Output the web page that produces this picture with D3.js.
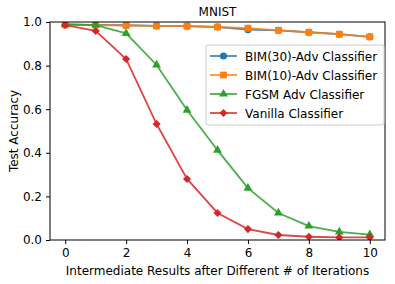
<!DOCTYPE html>
<html>
<head>
<meta charset="utf-8">
<script src="https://cdn.jsdelivr.net/npm/d3@7"></script>
<style>
  body { margin: 0; background: #fff; }
  text { font-family: "DejaVu Sans", sans-serif; }
</style>
</head>
<body>
<svg id="chart_1" width="395" height="284"></svg>
<script>
  // data
  var iterations = [0, 1, 2, 3, 4, 5, 6, 7, 8, 9, 10];
  var bim30 = [0.988, 0.987, 0.985, 0.982, 0.981, 0.977, 0.965, 0.962, 0.953, 0.944, 0.932];
  var bim10 = [0.986, 0.986, 0.984, 0.982, 0.981, 0.977, 0.972, 0.962, 0.953, 0.944, 0.932];
  var fgsm = [0.99, 0.986, 0.948, 0.803, 0.596, 0.412, 0.238, 0.124, 0.064, 0.037, 0.025];
  var vanilla = [0.986, 0.959, 0.83, 0.532, 0.28, 0.124, 0.05, 0.023, 0.015, 0.012, 0.012];
  var xTicks = [0, 2, 4, 6, 8, 10];
  var yTicks = [0, 0.2, 0.4, 0.6, 0.8, 1.0];

  // rot = extra rotation so the square becomes matplotlib's "D" marker
  var series = [
    {name: "BIM(30)-Adv Classifier", values: bim30, color: "#1f77b4", symbol: d3.symbolCircle, size: 40, rot: 0},
    {name: "BIM(10)-Adv Classifier", values: bim10, color: "#ff7f0e", symbol: d3.symbolSquare, size: 46, rot: 0},
    {name: "FGSM Adv Classifier", values: fgsm, color: "#2ca02c", symbol: d3.symbolTriangle, size: 34, rot: 0},
    {name: "Vanilla Classifier", values: vanilla, color: "#d62728", symbol: d3.symbolSquare, size: 33, rot: 45}
  ];

  var margin = {top: 22, right: 10, bottom: 44, left: 50};
  var svg = d3.select("#chart_1");
  var width = 395 - margin.left - margin.right;
  var height = 284 - margin.top - margin.bottom;

  var g = svg.append("g")
    .attr("transform", "translate(" + margin.left + "," + margin.top + ")");

  var x = d3.scaleLinear().domain([-0.5, 10.5]).range([0, width]);
  var y = d3.scaleLinear().domain([0, 1]).range([height, 0]);

  g.append("defs").append("clipPath").attr("id", "plot_clip")
    .append("rect").attr("width", width).attr("height", height);

  var plot = g.append("g").attr("clip-path", "url(#plot_clip)");

  series.forEach(function(s) {
    var pts = iterations.map(function(it, i) { return [it, s.values[i]]; });
    plot.append("path")
      .datum(pts)
      .attr("fill", "none")
      .attr("stroke", s.color)
      .attr("stroke-width", 1.8)
      .attr("stroke-opacity", 0.85)
      .attr("d", d3.line()
        .x(function(d) { return x(d[0]); })
        .y(function(d) { return y(d[1]); }));
    plot.selectAll(null)
      .data(pts)
      .enter().append("path")
      .attr("fill", s.color)
      .attr("transform", function(d) { return "translate(" + x(d[0]) + "," + y(d[1]) + ") rotate(" + s.rot + ")"; })
      .attr("d", d3.symbol().type(s.symbol).size(s.size));
  });

  // axes
  var xAxis = g.append("g")
    .attr("transform", "translate(0," + height + ")")
    .call(d3.axisBottom(x).tickValues(xTicks).tickSize(4).tickPadding(4));
  var yAxis = g.append("g")
    .call(d3.axisLeft(y).tickValues(yTicks).tickFormat(d3.format(".1f")).tickSize(4).tickPadding(4));

  [xAxis, yAxis].forEach(function(a) {
    a.select(".domain").remove();
    a.selectAll("text").attr("font-size", 12).attr("font-family", "DejaVu Sans").attr("fill", "#000");
    a.selectAll("line").attr("stroke", "#000").attr("stroke-width", 1);
  });

  // frame
  g.append("rect")
    .attr("width", width).attr("height", height)
    .attr("fill", "none").attr("stroke", "#000").attr("stroke-width", 1);

  // title and labels
  g.append("text")
    .attr("x", width / 2).attr("y", -6)
    .attr("text-anchor", "middle").attr("font-size", 12)
    .text("MNIST");

  g.append("text")
    .attr("x", width / 2).attr("y", height + 35)
    .attr("text-anchor", "middle").attr("font-size", 12)
    .text("Intermediate Results after Different # of Iterations");

  g.append("text")
    .attr("transform", "translate(" + (-32) + "," + (height / 2) + ") rotate(-90)")
    .attr("text-anchor", "middle").attr("font-size", 12)
    .text("Test Accuracy");

  // legend
  var legend = g.append("g").attr("transform", "translate(" + (206 - margin.left) + "," + (45 - margin.top) + ")");
  legend.append("rect")
    .attr("width", 178).attr("height", 80).attr("rx", 2)
    .attr("fill", "#fff").attr("fill-opacity", 0.8)
    .attr("stroke", "#ccc").attr("stroke-width", 1);

  series.forEach(function(s, i) {
    var row = legend.append("g").attr("transform", "translate(0," + (11 + i * 19) + ")");
    row.append("line")
      .attr("x1", 4).attr("x2", 31)
      .attr("stroke", s.color).attr("stroke-width", 1.8).attr("stroke-opacity", 0.85);
    row.append("path")
      .attr("fill", s.color)
      .attr("transform", "translate(17.5,0) rotate(" + s.rot + ")")
      .attr("d", d3.symbol().type(s.symbol).size(s.size));
    row.append("text")
      .attr("x", 39).attr("y", 4.5)
      .attr("font-size", 12)
      .text(s.name);
  });
</script>
</body>
</html>
